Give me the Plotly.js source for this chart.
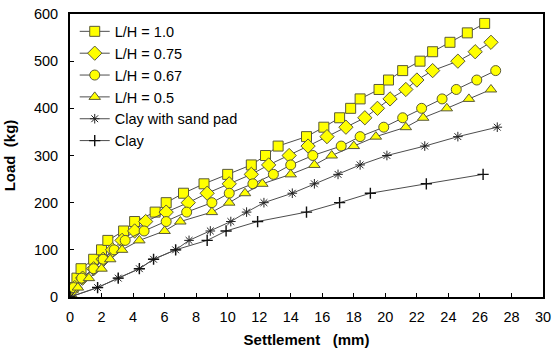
<!DOCTYPE html>
<html>
<head>
<meta charset="utf-8">
<script src="https://cdn.plot.ly/plotly-3.0.1.min.js"></script>
<style>
  html, body { margin: 0; padding: 0; background: #fff; }
  #chart { width: 552px; height: 349px; }
</style>
</head>
<body>
<div id="chart"></div>
<script>
// Load-settlement measurements (settlement in mm, load in kg)
const seriesNames = ["L/H = 1.0", "L/H = 0.75", "L/H = 0.67", "L/H = 0.5", "Clay with sand pad", "Clay"];

const settleLH100 = [0, 0.2, 0.44, 0.7, 1.5, 2.0, 2.4, 3.4, 4.1, 5.4, 6.1, 7.2, 8.5, 10.0, 11.5, 12.4, 13.2, 15.0, 16.1, 17.1, 17.8, 18.4, 19.6, 20.2, 21.1, 22.2, 23.0, 24.1, 25.2, 26.3];
const loadLH100 = [0, 20, 40, 60, 80, 100, 120, 140, 160, 180, 200, 220, 240, 260, 280, 300, 320, 340, 360, 380, 400, 420, 440, 460, 480, 500, 520, 540, 560, 580];

const settleLH075 = [0, 0.3, 0.8, 1.5, 2.1, 2.7, 3.3, 4.1, 4.8, 6.1, 7.5, 8.7, 10.1, 11.5, 12.6, 13.9, 15.1, 16.3, 17.5, 18.7, 19.5, 20.3, 21.3, 22.0, 23.0, 24.6, 25.7, 26.7];
const loadLH075 = [0, 20, 40, 60, 80, 100, 120, 140, 160, 180, 200, 220, 240, 260, 280, 300, 320, 340, 360, 380, 400, 420, 440, 460, 480, 500, 520, 540];

const settleLH067 = [0, 0.23, 0.74, 1.5, 2.1, 2.8, 3.5, 4.7, 6.1, 7.4, 9.0, 10.1, 11.6, 12.9, 14.0, 15.4, 17.2, 18.4, 19.9, 21.1, 22.3, 23.6, 24.5, 25.8, 27.0];
const loadLH067 = [0, 20, 40, 60, 80, 100, 120, 140, 160, 180, 200, 220, 240, 260, 280, 300, 320, 340, 360, 380, 400, 420, 440, 460, 480];

const settleLH050 = [0, 0.5, 1.2, 2.0, 2.55, 3.3, 4.4, 6.0, 7.0, 9.0, 10.1, 11.1, 12.2, 14.0, 15.5, 16.6, 18.0, 19.4, 21.3, 22.4, 23.9, 25.3, 26.7];
const loadLH050 = [0, 20, 40, 60, 80, 100, 120, 140, 160, 180, 200, 220, 240, 260, 280, 300, 320, 340, 360, 380, 400, 420, 440];

const settleSandPad = [0, 1.75, 3.06, 4.4, 5.3, 6.7, 7.55, 8.9, 10.2, 11.2, 12.3, 14.1, 15.5, 17.0, 18.4, 20.1, 22.5, 24.6, 27.1];
const loadSandPad = [0, 20, 40, 60, 80, 100, 120, 140, 160, 180, 200, 220, 240, 260, 280, 300, 320, 340, 360];

const settleClay = [0, 1.75, 3.06, 4.4, 5.3, 6.7, 8.7, 9.9, 11.9, 15.0, 17.1, 19.05, 22.6, 26.2];
const loadClay = [0, 20, 40, 60, 80, 100, 120, 140, 160, 180, 200, 220, 240, 260];

const xTickVals = [0, 2, 4, 6, 8, 10, 12, 14, 16, 18, 20, 22, 24, 26, 28, 30];
const yTickVals = [0, 100, 200, 300, 400, 500, 600];

const lineStyle = { color: "#4d4d4d", width: 1 };
const yellowMarker = (symbol, size) => ({
  symbol: symbol, size: size, color: "#ffff00",
  line: { color: "#5a5a3a", width: 1 }
});

const traces = [
  { x: settleLH100, y: loadLH100, name: seriesNames[0], mode: "lines+markers",
    line: lineStyle, marker: yellowMarker("square", 10) },
  { x: settleLH075, y: loadLH075, name: seriesNames[1], mode: "lines+markers",
    line: lineStyle, marker: yellowMarker("diamond", 11) },
  { x: settleLH067, y: loadLH067, name: seriesNames[2], mode: "lines+markers",
    line: lineStyle, marker: yellowMarker("circle", 10) },
  { x: settleLH050, y: loadLH050, name: seriesNames[3], mode: "lines+markers",
    line: lineStyle, marker: yellowMarker("triangle-up", 10) },
  { x: settleSandPad, y: loadSandPad, name: seriesNames[4], mode: "lines+markers",
    line: lineStyle,
    marker: { symbol: "asterisk-open", size: 8, color: "#222", line: { color: "#222", width: 1 } } },
  { x: settleClay, y: loadClay, name: seriesNames[5], mode: "lines+markers",
    line: lineStyle,
    marker: { symbol: "cross-thin-open", size: 8, color: "#111", line: { color: "#111", width: 1.4 } } }
];

const fam = "Liberation Sans, Arial, sans-serif";
const tickFont = { family: fam, size: 14.5, color: "#000" };
const titleFont = { family: fam, size: 15, color: "#000" };

const layout = {
  width: 552, height: 349,
  margin: { l: 70, r: 9, t: 14, b: 52 },
  paper_bgcolor: "#fff", plot_bgcolor: "#fff",
  font: tickFont,
  showlegend: true,
  legend: {
    x: 0.01, y: 0.995, xanchor: "left", yanchor: "top",
    bgcolor: "rgba(255,255,255,0)",
    font: { family: fam, size: 14.5, color: "#000" },
    itemwidth: 30, tracegroupgap: 0
  },
  xaxis: {
    range: [0, 30], tickvals: xTickVals, ticktext: xTickVals.map(String),
    ticks: "inside", ticklen: 4, tickcolor: "#000", tickwidth: 1,
    ticklabelstandoff: 6,
    showline: true, linecolor: "#000", linewidth: 2, mirror: true,
    showgrid: false, zeroline: false,
    tickfont: tickFont,
    title: { text: "<b>Settlement   (mm)</b>", font: titleFont, standoff: 10 }
  },
  yaxis: {
    range: [0, 600], tickvals: yTickVals, ticktext: yTickVals.map(String),
    ticks: "inside", ticklen: 4, tickcolor: "#000", tickwidth: 1,
    ticklabelstandoff: 7,
    showline: true, linecolor: "#000", linewidth: 2, mirror: true,
    showgrid: false, zeroline: false,
    tickfont: tickFont,
    title: { text: "<b>Load  (kg)</b>", font: titleFont, standoff: 15 }
  }
};

Plotly.newPlot("chart", traces, layout, { displayModeBar: false, staticPlot: true });
</script>
</body>
</html>
